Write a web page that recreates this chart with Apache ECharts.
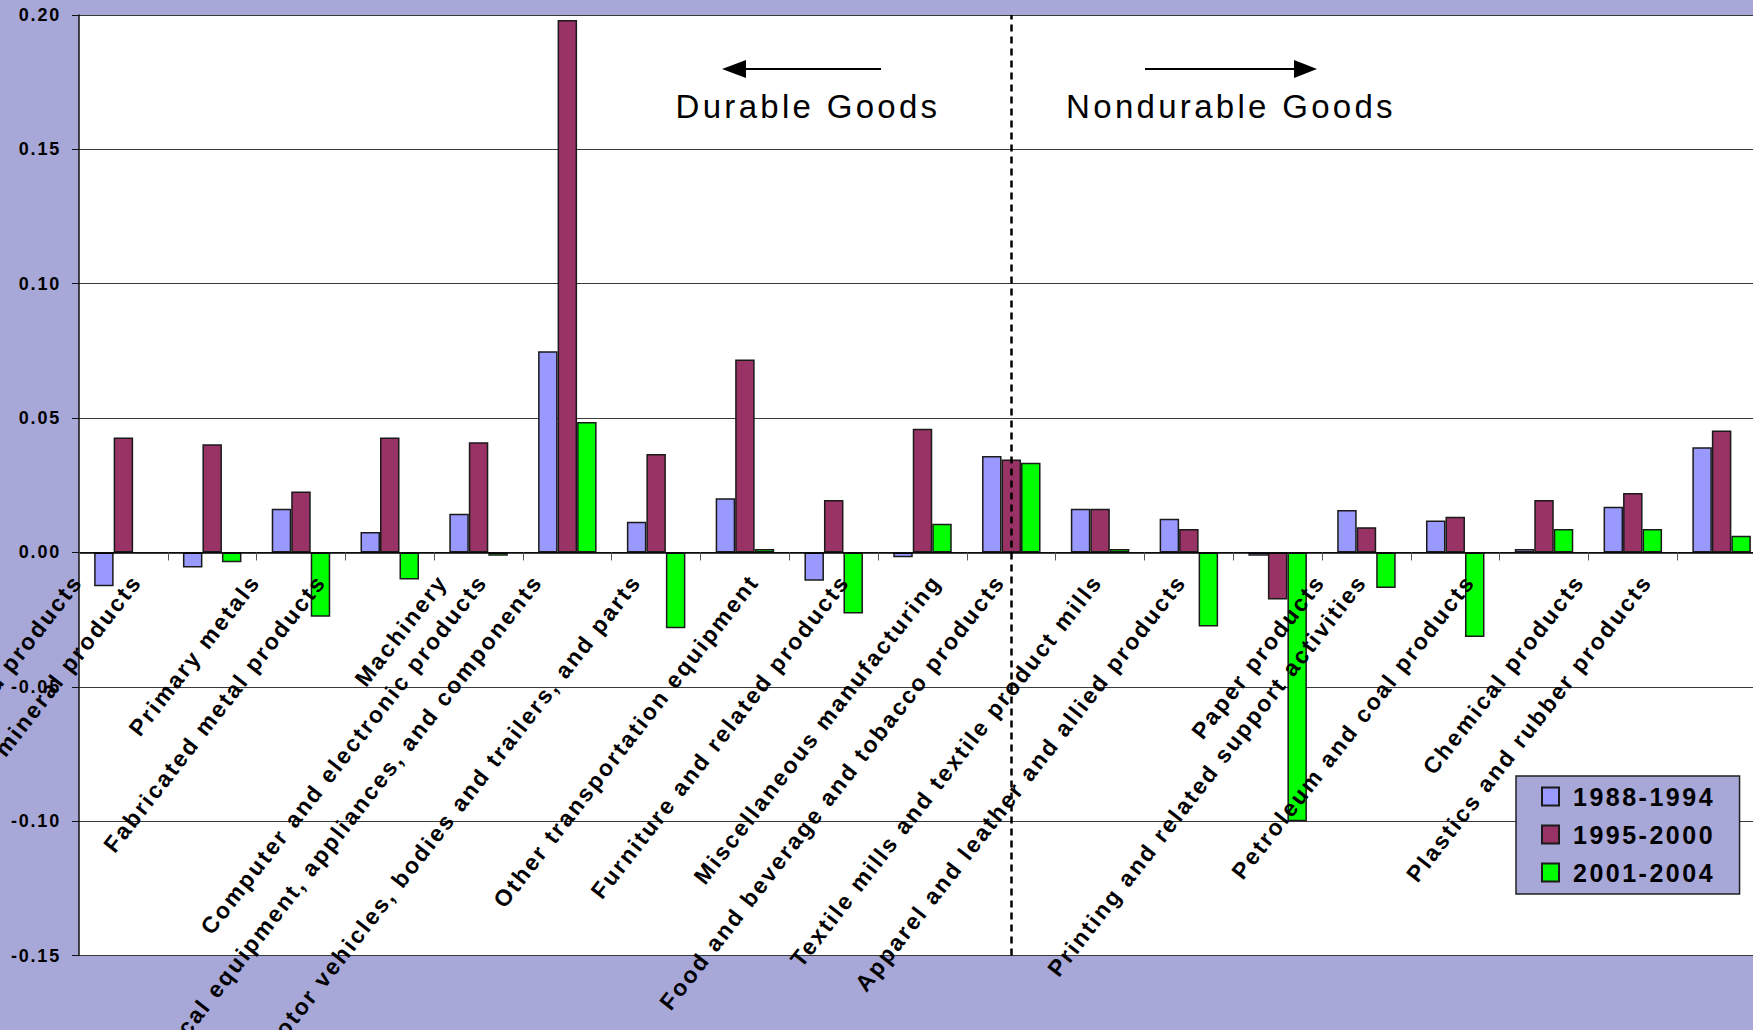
<!DOCTYPE html>
<html>
<head>
<meta charset="utf-8">
<title>Manufacturing industries: durable vs nondurable goods</title>
<script src="https://cdn.jsdelivr.net/npm/echarts@6/dist/echarts.min.js"></script>
<style>
  html, body { margin: 0; padding: 0; background: #a7a7d8; }
  #chart { width: 1753px; height: 1030px; }
  /* the original lettering is a little tracked out */
  #chart text { letter-spacing: 0.1em; }
</style>
</head>
<body>
<div id="chart"></div>
<script>
const industries = [
  'Wood products',
  'Nonmetallic mineral products',
  'Primary metals',
  'Fabricated metal products',
  'Machinery',
  'Computer and electronic products',
  'Electrical equipment, appliances, and components',
  'Motor vehicles, bodies and trailers, and parts',
  'Other transportation equipment',
  'Furniture and related products',
  'Miscellaneous manufacturing',
  'Food and beverage and tobacco products',
  'Textile mills and textile product mills',
  'Apparel and leather and allied products',
  'Paper products',
  'Printing and related support activities',
  'Petroleum and coal products',
  'Chemical products',
  'Plastics and rubber products'
];
const periods = ['1988-1994', '1995-2000', '2001-2004'];
const p1988 = [-0.0126, -0.0056, 0.0163, 0.0076, 0.0144, 0.0749, 0.0114, 0.0202, -0.0105, -0.0018,
  0.0359, 0.0163, 0.0125, -0.0012, 0.0158, 0.0119, 0.0013, 0.0170, 0.0391];
const p1995 = [0.0428, 0.0403, 0.0227, 0.0428, 0.0410, 0.1981, 0.0366, 0.0718, 0.0195, 0.0460,
  0.0346, 0.0163, 0.0087, -0.0175, 0.0094, 0.0133, 0.0195, 0.0221, 0.0454];
const p2001 = [null, -0.0037, -0.0239, -0.0101, -0.0012, 0.0485, -0.0282, 0.0013, -0.0227, 0.0107,
  0.0334, 0.0013, -0.0276, -0.1000, -0.0132, -0.0315, 0.0087, 0.0087, 0.0062];
const yMin = -0.15, yMax = 0.20, yStep = 0.05;
const dividerAt = 'Miscellaneous manufacturing';

const BG = '#a7a7d8';
const FONT = '"Liberation Sans", Arial, sans-serif';
const LABEL_SIZE = 23;
const ROT = 52;
const H = 1030, GRID_TOP = 15, GRID_BOTTOM = 74.5;

// keep the category axis (line, ticks and labels) on the zero line
const plotH = H - GRID_TOP - GRID_BOTTOM;
const zeroOffset = -plotH * (0 - yMin) / (yMax - yMin);

// the category labels sit further left the longer they are, so nudge each
// one sideways with rich-text padding (right + bottom padding = pure x shift)
const rad = ROT * Math.PI / 180;
const ctx = document.createElement('canvas').getContext('2d');
ctx.font = 'bold ' + LABEL_SIZE + 'px ' + FONT;
const rich = {};
industries.forEach(function (name, i) {
  const w = ctx.measureText(name).width + name.length * LABEL_SIZE * 0.1;
  const d = 15 + 0.156 * w;
  rich['c' + i] = {
    fontSize: LABEL_SIZE, fontWeight: 'bold', fontFamily: FONT, color: '#000',
    padding: [0, d * Math.cos(rad), 2 * d * Math.sin(rad), 0]
  };
});

function barSeries(name, data, color) {
  return {
    name: name,
    type: 'bar',
    data: data,
    barWidth: 19.5,
    barGap: '0%',
    itemStyle: { color: color, borderColor: '#1a1a1a', borderWidth: 1.5 }
  };
}

const series = [
  barSeries(periods[0], p1988, '#9999ff'),
  barSeries(periods[1], p1995, '#993366'),
  barSeries(periods[2], p2001, '#00ff00')
];
series[1].markLine = {
  silent: true,
  symbol: 'none',
  animation: false,
  label: { show: false },
  lineStyle: { color: '#000', width: 2.5, type: [7, 5] },
  data: [{ xAxis: dividerAt }]
};

const chart = echarts.init(document.getElementById('chart'), null, { renderer: 'svg' });
chart.setOption({
  animation: false,
  backgroundColor: BG,
  grid: {
    left: 79, right: -13, top: GRID_TOP, bottom: GRID_BOTTOM,
    show: true, backgroundColor: '#fff', borderWidth: 0,
    containLabel: false, outerBoundsMode: 'none'
  },
  legend: {
    orient: 'vertical',
    left: 1516, top: 776,
    icon: 'rect',
    itemWidth: 17, itemHeight: 18, itemGap: 13,
    padding: [8, 47, 9, 25],
    backgroundColor: BG,
    borderColor: '#222', borderWidth: 1.5, borderRadius: 0,
    textStyle: { fontSize: 25, fontWeight: 'bold', color: '#000', fontFamily: FONT, padding: [0, 0, 0, 9] },
    data: periods
  },
  xAxis: {
    type: 'category',
    data: industries,
    z: 5,
    offset: zeroOffset,
    axisLine: { onZero: false, lineStyle: { color: '#000', width: 1.5 } },
    axisTick: { show: true, length: 8, lineStyle: { color: '#555' } },
    axisLabel: {
      interval: 0, rotate: ROT, margin: 25,
      fontSize: LABEL_SIZE, fontWeight: 'bold', fontFamily: FONT, color: '#000',
      formatter: function (v, i) { return '{c' + i + '|' + v + '}'; },
      rich: rich
    },
    splitLine: { show: false }
  },
  yAxis: {
    type: 'value',
    min: yMin, max: yMax, interval: yStep,
    axisLine: { show: true, lineStyle: { color: '#111', width: 1.5 } },
    axisTick: { show: true, length: 7, lineStyle: { color: '#111' } },
    axisLabel: {
      fontSize: 18, fontWeight: 'bold', fontFamily: FONT, color: '#000', margin: 18,
      formatter: function (v) { return Math.abs(v) < 1e-9 ? '0.00' : v.toFixed(2); }
    },
    splitLine: { lineStyle: { color: '#3a3a3a', width: 1 } }
  },
  graphic: [
    { type: 'line', z: 10, shape: { x1: 745, y1: 69, x2: 881, y2: 69 }, style: { stroke: '#000', lineWidth: 2 } },
    { type: 'polygon', z: 10, shape: { points: [[722, 69], [746, 60], [746, 78]] }, style: { fill: '#000' } },
    { type: 'text', z: 10, x: 808, y: 106,
      style: { text: 'Durable Goods', font: '33px ' + FONT, fill: '#000', align: 'center', verticalAlign: 'middle' } },
    { type: 'line', z: 10, shape: { x1: 1145, y1: 69, x2: 1296, y2: 69 }, style: { stroke: '#000', lineWidth: 2 } },
    { type: 'polygon', z: 10, shape: { points: [[1317, 69], [1294, 60], [1294, 78]] }, style: { fill: '#000' } },
    { type: 'text', z: 10, x: 1231, y: 106,
      style: { text: 'Nondurable Goods', font: '33px ' + FONT, fill: '#000', align: 'center', verticalAlign: 'middle' } }
  ],
  series: series
});
</script>
</body>
</html>
